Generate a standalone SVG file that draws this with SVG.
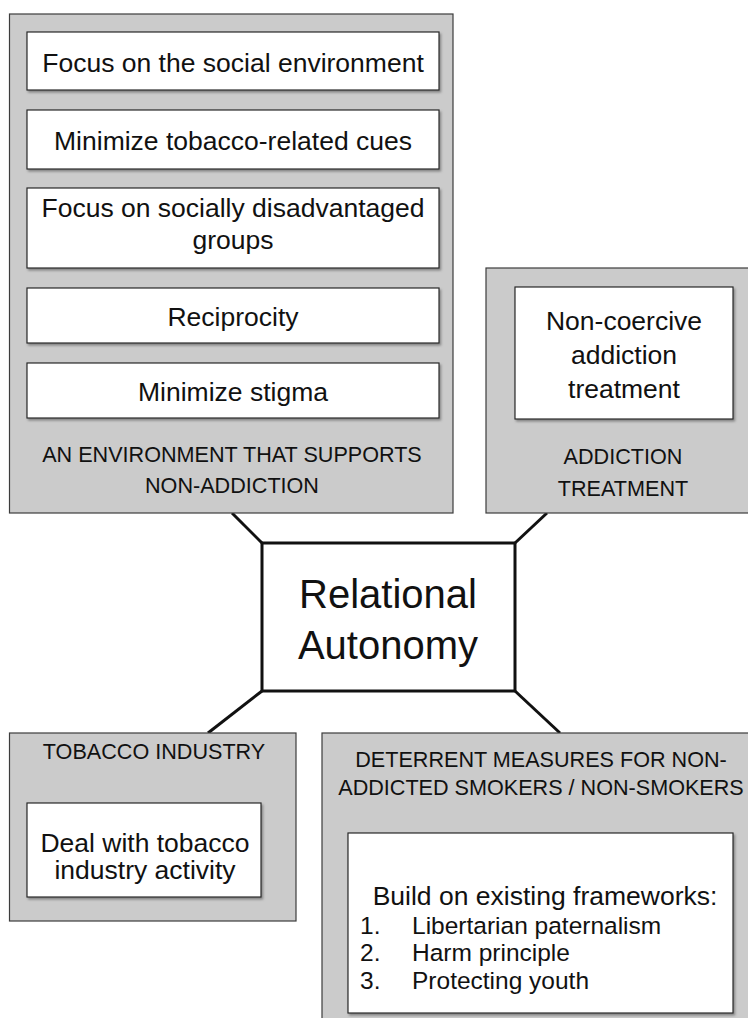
<svg xmlns="http://www.w3.org/2000/svg" width="748" height="1018" viewBox="0 0 748 1018">
<defs>
<filter id="sh" x="-5%" y="-5%" width="115%" height="125%">
<feDropShadow dx="1.5" dy="2" stdDeviation="1.2" flood-color="#000" flood-opacity="0.35"/>
</filter>
</defs>
<style>
.grp{fill:#cbcbcb;stroke:#3c3c3c;stroke-width:1.2}
.box{fill:#ffffff;stroke:#2a2a2a;stroke-width:1.2;filter:url(#sh)}
.t{font-family:"Liberation Sans",Arial,sans-serif;font-size:26.5px;fill:#111;text-anchor:middle}
.li{font-family:"Liberation Sans",Arial,sans-serif;font-size:24.5px;fill:#111;text-anchor:start}
.lab{font-family:"Liberation Sans",Arial,sans-serif;font-size:21.6px;fill:#111;text-anchor:middle}
.big{font-family:"Liberation Sans",Arial,sans-serif;font-size:40px;fill:#111;text-anchor:middle}
.conn{stroke:#111;stroke-width:3;fill:none}
</style>
<rect x="0" y="0" width="748" height="1018" fill="#ffffff"/>
<g id="connectors">
<line class="conn" x1="232" y1="513" x2="262" y2="543"/>
<line class="conn" x1="547" y1="513" x2="515" y2="543"/>
<line class="conn" x1="262" y1="691" x2="208" y2="733"/>
<line class="conn" x1="515" y1="691" x2="560" y2="733"/>
</g>
<g id="environment">
<rect class="grp" x="9.5" y="14" width="443.5" height="499"/>
<text class="lab" x="232" y="462">AN ENVIRONMENT THAT SUPPORTS</text>
<text class="lab" x="232" y="493">NON-ADDICTION</text>
</g>
<g id="social-environment">
<rect class="box" x="27" y="32" width="412" height="58"/>
<text class="t" x="233" y="72">Focus on the social environment</text>
</g>
<g id="tobacco-cues">
<rect class="box" x="27" y="110" width="412" height="59"/>
<text class="t" x="233" y="150">Minimize tobacco-related cues</text>
</g>
<g id="disadvantaged-groups">
<rect class="box" x="27" y="188" width="412" height="80"/>
<text class="t" x="233" y="217">Focus on socially disadvantaged</text>
<text class="t" x="233" y="249">groups</text>
</g>
<g id="reciprocity">
<rect class="box" x="27" y="288" width="412" height="55"/>
<text class="t" x="233" y="326">Reciprocity</text>
</g>
<g id="stigma">
<rect class="box" x="27" y="363" width="412" height="55"/>
<text class="t" x="233" y="401">Minimize stigma</text>
</g>
<g id="addiction-treatment">
<rect class="grp" x="486" y="268" width="270" height="245"/>
<text class="lab" x="623" y="464">ADDICTION</text>
<text class="lab" x="623" y="496">TREATMENT</text>
</g>
<g id="non-coercive">
<rect class="box" x="515" y="287" width="218" height="132"/>
<text class="t" x="624" y="330">Non-coercive</text>
<text class="t" x="624" y="364">addiction</text>
<text class="t" x="624" y="398">treatment</text>
</g>
<g id="relational-autonomy">
<rect x="262" y="543" width="253" height="148" fill="#ffffff" stroke="#111" stroke-width="3"/>
<text class="big" x="388" y="608">Relational</text>
<text class="big" x="388" y="659">Autonomy</text>
</g>
<g id="tobacco-industry">
<rect class="grp" x="9.5" y="733" width="286.5" height="188"/>
<text class="lab" x="154" y="759">TOBACCO INDUSTRY</text>
</g>
<g id="industry-activity">
<rect class="box" x="27" y="803" width="234" height="94"/>
<text class="t" x="145" y="852">Deal with tobacco</text>
<text class="t" x="145" y="879">industry activity</text>
</g>
<g id="deterrent">
<rect class="grp" x="322" y="733" width="440" height="300"/>
<text class="lab" x="541" y="767">DETERRENT MEASURES FOR NON-</text>
<text class="lab" x="541" y="795">ADDICTED SMOKERS / NON-SMOKERS</text>
</g>
<g id="frameworks">
<rect class="box" x="348" y="833" width="385" height="180"/>
<text class="t" x="545" y="905">Build on existing frameworks:</text>
<text class="li" x="360" y="933.5">1.</text>
<text class="li" x="412" y="933.5">Libertarian paternalism</text>
<text class="li" x="360" y="961">2.</text>
<text class="li" x="412" y="961">Harm principle</text>
<text class="li" x="360" y="988.5">3.</text>
<text class="li" x="412" y="988.5">Protecting youth</text>
</g>
</svg>
